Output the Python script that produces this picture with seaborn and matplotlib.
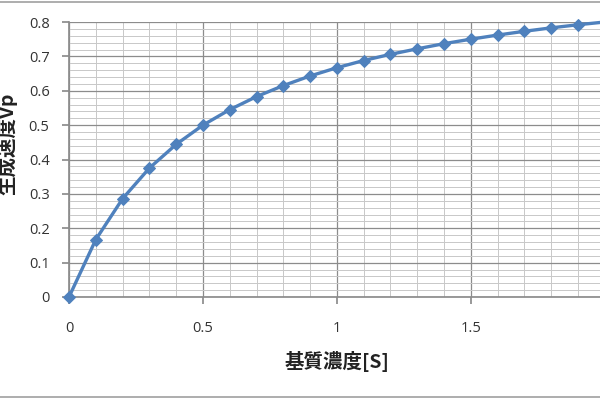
import matplotlib
matplotlib.use("Agg")
import matplotlib.pyplot as plt
from matplotlib.lines import Line2D
from matplotlib.ticker import MultipleLocator
import seaborn as sns
import pandas as pd

substrate = [0.0, 0.1, 0.2, 0.3, 0.4, 0.5, 0.6, 0.7, 0.8, 0.9, 1.0,
             1.1, 1.2, 1.3, 1.4, 1.5, 1.6, 1.7, 1.8, 1.9, 2.0]
velocity = [0.0, 0.167, 0.286, 0.375, 0.444, 0.5, 0.545, 0.583, 0.615, 0.643, 0.667,
            0.688, 0.706, 0.722, 0.737, 0.75, 0.762, 0.773, 0.783, 0.792, 0.8]
x_ticks = [0, 0.5, 1, 1.5, 2]
x_tick_labels = ["0", "0.5", "1", "1.5", "2"]
y_ticks = [0, 0.1, 0.2, 0.3, 0.4, 0.5, 0.6, 0.7, 0.8]
y_tick_labels = ["0", "0.1", "0.2", "0.3", "0.4", "0.5", "0.6", "0.7", "0.8"]
x_label = "基質濃度[S]"
y_label = "生成速度Vp"

sns.set_theme(style="white")
plt.rcParams['font.family'] = ['Noto Sans CJK JP', 'DejaVu Sans']

df = pd.DataFrame({"S": substrate, "Vp": velocity})

fig = plt.figure(figsize=(6, 4), dpi=100)
ax = fig.add_axes([0.115, 0.2575, 0.893, 0.6875])

sns.lineplot(data=df, x="S", y="Vp", ax=ax, color="#4F81BD", linewidth=2.4,
             marker="D", markersize=6.5, markeredgecolor="#4F81BD", clip_on=False, zorder=5)

ax.set_xlim(0, 2)
ax.set_ylim(0, 0.8)
ax.set_xticks(x_ticks, x_tick_labels)
ax.set_yticks(y_ticks, y_tick_labels)
ax.xaxis.set_minor_locator(MultipleLocator(0.1))
ax.yaxis.set_minor_locator(MultipleLocator(0.02))
ax.grid(which="major", color="#8c8c8c", linewidth=0.9)
ax.grid(which="minor", color="#c8c8c8", linewidth=0.7)
ax.set_axisbelow(True)

for s in ["top", "right"]:
    ax.spines[s].set_visible(False)
ax.spines["left"].set_color("#8c8c8c")
ax.spines["bottom"].set_color("#8c8c8c")

ax.tick_params(axis="both", which="major", direction="out", length=5, color="#8c8c8c",
               labelsize=10.5, labelcolor="#333333", bottom=True, left=True)
ax.tick_params(axis="x", which="major", pad=12)
ax.tick_params(axis="y", which="major", pad=9)
ax.tick_params(which="minor", length=0)
for lab in ax.get_xticklabels() + ax.get_yticklabels():
    lab.set_family(["Open Sans", "DejaVu Sans"])

ax.set_xlabel("")
ax.set_ylabel("")
fig.text(337 / 600, 1 - 362 / 400, x_label, ha="center", va="center",
         fontsize=14, fontweight="bold", color="#222222")
fig.text(7 / 600, 1 - 144 / 400, y_label, ha="center", va="center", rotation=90,
         fontsize=14, fontweight="bold", color="#222222")

fig.add_artist(Line2D([0, 1], [1 - 2 / 400, 1 - 2 / 400], transform=fig.transFigure,
                      color="#a0a0a0", linewidth=1.2))
fig.add_artist(Line2D([0, 1], [1 - 397 / 400, 1 - 397 / 400], transform=fig.transFigure,
                      color="#a0a0a0", linewidth=1.2))

fig.savefig("out.png", dpi=100)
